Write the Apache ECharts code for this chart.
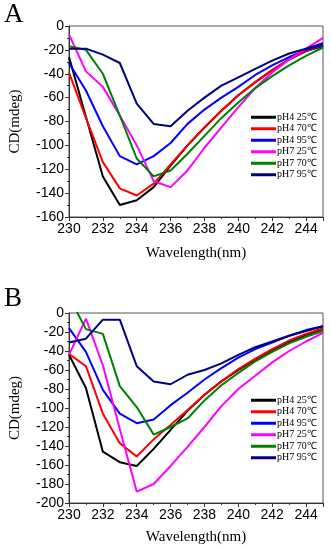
<!DOCTYPE html>
<html><head><meta charset="utf-8">
<script src="https://cdn.jsdelivr.net/npm/echarts@6/dist/echarts.min.js"></script>
<style>html,body{margin:0;padding:0;background:#fff}#c{width:331px;height:550px}</style>
</head><body><div id="c"></div>
<script>
const wavelengths = [230,231,232,233,234,235,236,237,238,239,240,241,242,243,244,245];
const seriesNames = ['pH4 25℃','pH4 70℃','pH4 95℃','pH7 25℃','pH7 70℃','pH7 95℃'];
const colors = ['#000000','#ff0000','#0000ff','#ff00ff','#008000','#000080'];

// Panel A
const A_pH4_25 = [-26,-76,-126,-150,-146,-135,-117,-100,-85,-71,-58,-47,-37,-28,-21,-17];
const A_pH4_70 = [-39,-77,-114,-136,-142,-132,-116,-100,-85,-71,-58,-47,-37,-28,-21,-16];
const A_pH4_95 = [-31,-54,-84,-109,-116,-109,-98,-82,-70,-60,-51,-41,-33,-26,-20,-16];
const A_pH7_25 = [-7,-38,-51,-75,-100,-130,-135,-121,-102,-85,-68,-52,-39,-28,-19,-10];
const A_pH7_70 = [-17,-20,-40,-75,-111,-126,-121,-107,-92,-77,-64,-52,-42,-33,-25,-18];
const A_pH7_95 = [-19,-19,-24,-31,-65,-82,-84,-71,-60,-50,-43,-36,-29,-23,-19,-14.5];

// Panel B
const B_pH4_25 = [-44,-79,-146,-157,-161,-143,-123,-103,-86,-72,-60,-49,-39,-30,-23,-17];
const B_pH4_70 = [-43,-56,-106,-137,-151,-133,-118,-102,-86,-72,-59,-48,-38,-29,-22,-16];
const B_pH4_95 = [-16,-41,-81,-106,-116,-112,-97,-84,-70,-58,-47,-38,-31,-24,-18,-14];
const B_pH7_25 = [-44,-6,-55,-122,-188,-180,-161,-141,-120,-98,-80,-66,-52,-40,-30,-21];
const B_pH7_70 = [17,-17,-22,-77,-99,-128,-120,-111,-92,-76,-63,-51,-41,-32,-25,-19];
const B_pH7_95 = [-31,-27,-7,-7,-56,-72,-75,-65,-60,-53,-44,-36,-30,-24,-19,-14];

const xTicks = [230,232,234,236,238,240,242,244];
const A_ticks = [0,-20,-40,-60,-80,-100,-120,-140,-160];
const B_ticks = [0,-20,-40,-60,-80,-100,-120,-140,-160,-180,-200];

const dataA = [A_pH4_25,A_pH4_70,A_pH4_95,A_pH7_25,A_pH7_70,A_pH7_95];
const dataB = [B_pH4_25,B_pH4_70,B_pH4_95,B_pH7_25,B_pH7_70,B_pH7_95];

const chart = echarts.init(document.getElementById('c'));
const axisColor = '#333';
function xAx(idx, gap){
  return {type:'value', gridIndex:idx, min:230, max:245, interval:2,
    axisLine:{show:true,onZero:false,lineStyle:{color:axisColor,width:1}},
    axisTick:{show:true,inside:false,length:4,lineStyle:{color:axisColor}},
    minorTick:{show:true,splitNumber:2,length:2,lineStyle:{color:axisColor}},
    splitLine:{show:false},
    axisLabel:{color:'#000',fontFamily:'Liberation Sans',fontSize:14,margin:5,
      formatter:v=> xTicks.includes(v)? String(v):''},
    name:'Wavelength(nm)', nameLocation:'middle', nameGap:gap,
    nameTextStyle:{fontFamily:'Liberation Serif',fontSize:15,color:'#000'}};
}
function yAx(idx, mn){
  return {type:'value', gridIndex:idx, min:mn, max:0, interval:20,
    axisLine:{show:true,onZero:false,lineStyle:{color:axisColor,width:1}},
    axisTick:{show:true,inside:false,length:4,lineStyle:{color:axisColor}},
    minorTick:{show:true,splitNumber:2,length:2,lineStyle:{color:axisColor}},
    splitLine:{show:false},
    axisLabel:{color:'#000',fontFamily:'Liberation Sans',fontSize:14,margin:5},
    name:'CD(mdeg)', nameLocation:'middle', nameGap:46,
    nameTextStyle:{fontFamily:'Liberation Serif',fontSize:15,color:'#000'}};
}
const series = [];
seriesNames.forEach((n,i)=>{
  series.push({name:n,type:'line',xAxisIndex:0,yAxisIndex:0,symbol:'none',
    lineStyle:{width:2,color:colors[i]},itemStyle:{color:colors[i]},clip:true,
    data:wavelengths.map((w,j)=>[w,dataA[i][j]])});
});
seriesNames.forEach((n,i)=>{
  series.push({name:n,type:'line',xAxisIndex:1,yAxisIndex:1,symbol:'none',
    lineStyle:{width:2,color:colors[i]},itemStyle:{color:colors[i]},clip:true,
    data:wavelengths.map((w,j)=>[w,dataB[i][j]])});
});
function leg(top){
  return {data:seriesNames, orient:'vertical', left:251, top:top, itemWidth:25, itemHeight:3,
    itemGap:1, icon:'rect', selectedMode:false, padding:0,
    textStyle:{fontFamily:'Liberation Serif',fontSize:10,color:'#000',lineHeight:10.5,padding:[0,0,0,-4]}};
}
chart.setOption({
  animation:false,
  backgroundColor:'#fff',
  title:[
    {text:'A',left:4,top:1,padding:0,textStyle:{fontFamily:'Liberation Serif',fontSize:27,fontWeight:'normal',color:'#000'}},
    {text:'B',left:4,top:285,padding:0,textStyle:{fontFamily:'Liberation Serif',fontSize:27,fontWeight:'normal',color:'#000'}}
  ],
  grid:[
    {left:67,top:26,width:256,height:191,show:true,borderColor:'#555',borderWidth:1},
    {left:67,top:313,width:256,height:190,show:true,borderColor:'#555',borderWidth:1}
  ],
  xAxis:[xAx(0,29), xAx(1,27)],
  yAxis:[yAx(0,-160), yAx(1,-200)],
  legend:[leg(112), leg(395)],
  series:series
});
</script></body></html>
